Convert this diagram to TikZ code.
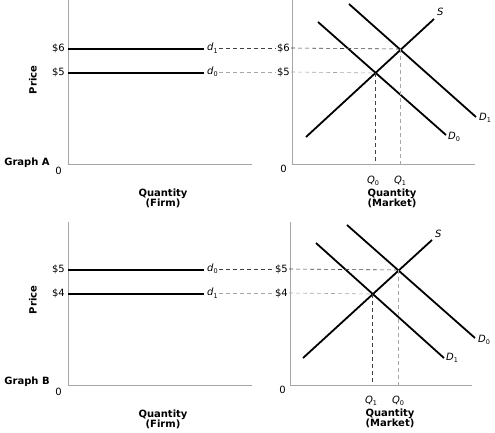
\documentclass[tikz,border=0pt]{standalone}
\usepackage{fontspec}
\setmainfont{DejaVu Sans}
\setsansfont{DejaVu Sans}
\newcommand\mysub[2]{\textit{#1}\raisebox{-0.45ex}{\fontsize{6.5pt}{6.5pt}\selectfont #2}}
\tikzset{
  axis/.style={draw=gray!70, line width=0.8pt},
  firmline/.style={line width=2.2pt},
  curve/.style={line width=1.8pt},
  guide/.style={dash pattern=on 4pt off 3pt, line width=0.6pt, draw=gray!50!black},
  guidel/.style={dash pattern=on 4pt off 3pt, line width=0.6pt, draw=gray!70},
  lbl/.style={font=\fontsize{10}{11}\selectfont, inner sep=1pt},
  bold/.style={font=\bfseries\fontsize{10}{10}\selectfont, inner sep=0pt, align=center},
}
\begin{document}
\begin{tikzpicture}[x=1pt,y=-1pt]
\useasboundingbox (0,0) rectangle (495,433);
% ================= Graph A =================
% firm
\coordinate (fAo) at (68,164);
\coordinate (fAt) at (68,0);
\coordinate (fAr) at (252,164);
\draw[axis] (fAt) -- (fAo) -- (fAr);
\coordinate (fA6a) at (68,49);
\coordinate (fA6b) at (204,49);
\coordinate (fA5a) at (68,73);
\coordinate (fA5b) at (204,73);
\draw[firmline] (fA6a) -- (fA6b);
\draw[firmline] (fA5a) -- (fA5b);
\node[lbl,anchor=east] (fA6l) at (66,48) {\$6};
\node[lbl,anchor=east] (fA5l) at (66,72) {\$5};
\node[lbl,anchor=west] (dA1) at (206,48) {\mysub{d}{1}};
\node[lbl,anchor=west] (dA0) at (206,72) {\mysub{d}{0}};
\node[lbl,anchor=east] (fAz) at (63,171) {0};
\node[bold,anchor=center] (gA) at (27,163) {Graph A};
\node[bold,rotate=90] (prA) at (33,80) {Price};
\node[bold] (qfA) at (163,198) {Quantity\\(Firm)};
% market
\coordinate (mAo) at (292,164);
\coordinate (mAt) at (292,0);
\coordinate (mAr) at (475,164);
\draw[axis] (mAt) -- (mAo) -- (mAr);
\node[lbl,anchor=east] (mAz) at (288,169) {0};
\coordinate (sAa) at (306,137);
\coordinate (sAb) at (434,19);
\coordinate (dA0a) at (318,22);
\coordinate (dA0b) at (446,135);
\coordinate (dA1a) at (349,4);
\coordinate (dA1b) at (476,117);
\draw[curve] (sAa) -- (sAb);
\draw[curve] (dA0a) -- (dA0b);
\draw[curve] (dA1a) -- (dA1b);
\node[lbl,anchor=south west] (SA) at (436,17) {\textit{S}};
\node[lbl,anchor=west] (DA1) at (478,118) {\mysub{D}{1}};
\node[lbl,anchor=west] (DA0) at (447,137) {\mysub{D}{0}};
\coordinate (eA0) at (375,73);
\coordinate (eA1) at (400,49);
\coordinate (qA0) at (375,164);
\coordinate (qA1) at (400,164);
\node[lbl,anchor=east] (mA6l) at (291,48) {\$6};
\node[lbl,anchor=east] (mA5l) at (291,72) {\$5};
\draw[guide] (dA1.east) -- (mA6l.west);
\draw[guide] (mA6l.east) -- (eA1);
\draw[guidel] (dA0.east) -- (mA5l.west);
\draw[guidel] (mA5l.east) -- (eA0);
\draw[guide] (eA0) -- (qA0);
\draw[guidel] (eA1) -- (qA1);
\node[lbl] (QA0) at (373,181) {\mysub{Q}{0}};
\node[lbl] (QA1) at (400,181) {\mysub{Q}{1}};
\node[bold] (qmA) at (392,198) {Quantity\\(Market)};
% ================= Graph B =================
% firm
\coordinate (fBo) at (68,385);
\coordinate (fBt) at (68,222);
\coordinate (fBr) at (252,385);
\draw[axis] (fBt) -- (fBo) -- (fBr);
\coordinate (fB5a) at (68,270);
\coordinate (fB5b) at (204,270);
\coordinate (fB4a) at (68,294);
\coordinate (fB4b) at (204,294);
\draw[firmline] (fB5a) -- (fB5b);
\draw[firmline] (fB4a) -- (fB4b);
\node[lbl,anchor=east] (fB5l) at (66,269) {\$5};
\node[lbl,anchor=east] (fB4l) at (66,293) {\$4};
\node[lbl,anchor=west] (dB0) at (206,269) {\mysub{d}{0}};
\node[lbl,anchor=west] (dB1) at (206,293) {\mysub{d}{1}};
\node[lbl,anchor=east] (fBz) at (63,392) {0};
\node[bold] (gB) at (27,382) {Graph B};
\node[bold,rotate=90] (prB) at (33,300) {Price};
\node[bold] (qfB) at (163,419) {Quantity\\(Firm)};
% market
\coordinate (mBo) at (290,385);
\coordinate (mBt) at (290,222);
\coordinate (mBr) at (472,385);
\draw[axis] (mBt) -- (mBo) -- (mBr);
\node[lbl,anchor=east] (mBz) at (287,390) {0};
\coordinate (sBa) at (303,358);
\coordinate (sBb) at (432,240);
\coordinate (dB1a) at (316,243);
\coordinate (dB1b) at (444,358);
\coordinate (dB0a) at (347,225);
\coordinate (dB0b) at (475,338);
\draw[curve] (sBa) -- (sBb);
\draw[curve] (dB1a) -- (dB1b);
\draw[curve] (dB0a) -- (dB0b);
\node[lbl,anchor=south west] (SB) at (434,239) {\textit{S}};
\node[lbl,anchor=west] (DB0) at (477,340) {\mysub{D}{0}};
\node[lbl,anchor=west] (DB1) at (445,358) {\mysub{D}{1}};
\coordinate (eB1) at (372,294);
\coordinate (eB0) at (398,270);
\coordinate (qB1) at (372,385);
\coordinate (qB0) at (398,385);
\node[lbl,anchor=east] (mB5l) at (289,269) {\$5};
\node[lbl,anchor=east] (mB4l) at (289,293) {\$4};
\draw[guide] (dB0.east) -- (mB5l.west);
\draw[guide] (mB5l.east) -- (eB0);
\draw[guidel] (dB1.east) -- (mB4l.west);
\draw[guidel] (mB4l.east) -- (eB1);
\draw[guide] (eB1) -- (qB1);
\draw[guidel] (eB0) -- (qB0);
\node[lbl] (QB1) at (371,401) {\mysub{Q}{1}};
\node[lbl] (QB0) at (398,401) {\mysub{Q}{0}};
\node[bold] (qmB) at (390,418) {Quantity\\(Market)};
\end{tikzpicture}
\end{document}
